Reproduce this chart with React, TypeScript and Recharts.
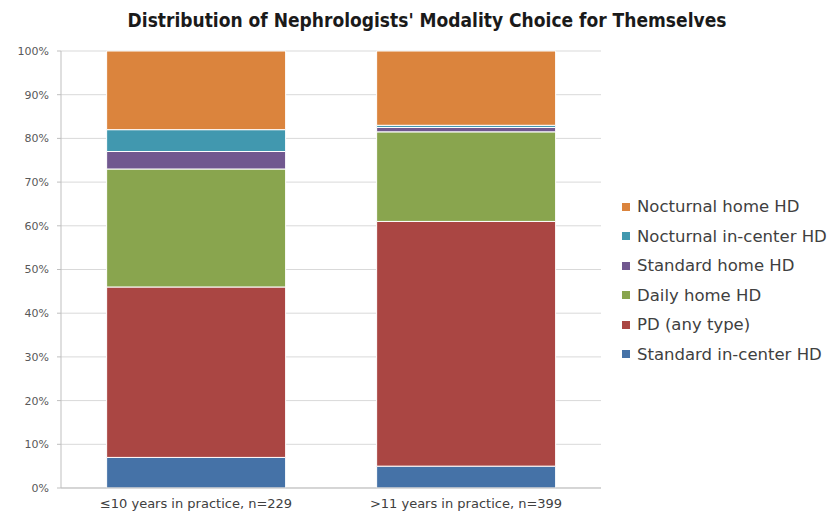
import { BarChart, Bar, XAxis, YAxis, CartesianGrid, Legend } from "recharts";

const groups = ["≤10 years in practice, n=229", ">11 years in practice, n=399"];

// stacking order, bottom to top
const seriesNames = [
  "Standard in-center HD",
  "PD (any type)",
  "Daily home HD",
  "Standard home HD",
  "Nocturnal in-center HD",
  "Nocturnal home HD",
];
const seriesColors = ["#4572A7", "#AA4643", "#89A54E", "#71588F", "#4198AF", "#DB843D"];

const standardInCenter = [7, 5];
const pdAnyType = [39, 56];
const dailyHome = [27, 20.5];
const standardHome = [4, 1];
const nocturnalInCenter = [5, 0.5];
const nocturnalHome = [18, 17];

const yTicks = [0, 10, 20, 30, 40, 50, 60, 70, 80, 90, 100];

const values = [standardInCenter, pdAnyType, dailyHome, standardHome, nocturnalInCenter, nocturnalHome];

const data = groups.map((g, i) => {
  const row: Record<string, string | number> = { group: g };
  seriesNames.forEach((s, k) => {
    row[s] = values[k][i];
  });
  return row;
});

const font = "'DejaVu Sans', sans-serif";

// legend lists the series top-down, same as the stack
function LegendBox(props: any) {
  const payload = props.payload || [];
  const items = [...seriesNames].reverse().map((name) => {
    const p = payload.find((x: any) => x.value === name);
    return { value: name, color: p ? p.color : seriesColors[seriesNames.indexOf(name)] };
  });
  return (
    <div style={{ fontFamily: font, fontSize: 16.5, color: "#404040" }}>
      {items.map((it) => (
        <div key={it.value} style={{ display: "flex", alignItems: "center", height: 29.5 }}>
          <span style={{ width: 8, height: 8, background: it.color, marginRight: 7 }} />
          <span>{it.value}</span>
        </div>
      ))}
    </div>
  );
}

export default function App() {
  return (
    <div style={{ position: "absolute", left: 0, top: 0, width: 836, height: 517, background: "#fff" }}>
      <div
        style={{
          position: "absolute",
          left: 0,
          top: 9,
          width: 854,
          textAlign: "center",
          fontFamily: "'DejaVu Sans Condensed', 'DejaVu Sans', sans-serif",
          fontWeight: "bold",
          fontSize: 19,
          color: "#1a1a1a",
        }}
      >
        Distribution of Nephrologists' Modality Choice for Themselves
      </div>
      <BarChart
        width={836}
        height={517}
        data={data}
        margin={{ top: 51, right: 235, left: 0, bottom: 0 }}
        barCategoryGap="16.9%"
      >
        <CartesianGrid vertical={false} stroke="#d9d9d9" />
        <XAxis
          dataKey="group"
          height={29}
          tickLine={false}
          axisLine={{ stroke: "#bfbfbf" }}
          tick={{ fill: "#404040", fontSize: 13, fontFamily: font }}
          tickMargin={5}
        />
        <YAxis
          width={61}
          domain={[0, 100]}
          ticks={yTicks}
          tickFormatter={(v: number) => `${v}%`}
          axisLine={{ stroke: "#bfbfbf" }}
          tickLine={{ stroke: "#bfbfbf" }}
          tickSize={4}
          tickMargin={8}
          tick={{ fill: "#595959", fontSize: 11, fontFamily: font }}
        />
        <Legend
          layout="horizontal"
          verticalAlign="middle"
          align="center"
          content={<LegendBox />}
          wrapperStyle={{ position: "absolute", left: 622, top: 192, width: 214 }}
        />
        {seriesNames.map((s, k) => (
          <Bar
            key={s}
            dataKey={s}
            stackId="a"
            fill={seriesColors[k]}
            stroke="#fff"
            strokeWidth={1}
            isAnimationActive={false}
          />
        ))}
      </BarChart>
    </div>
  );
}
